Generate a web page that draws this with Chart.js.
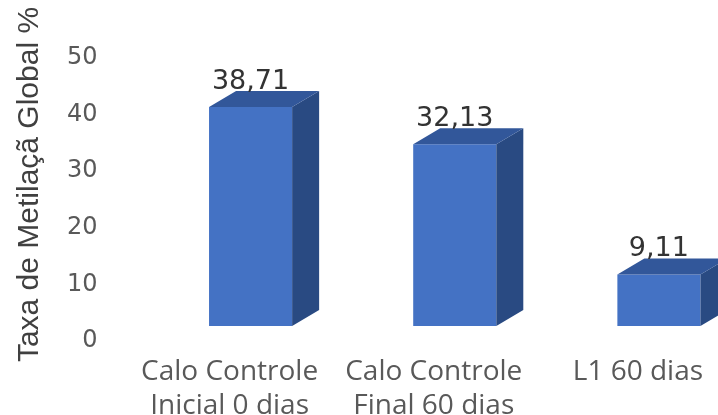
<!DOCTYPE html>
<html>
<head>
<meta charset="utf-8">
<script src="https://cdn.jsdelivr.net/npm/chart.js@4"></script>
<style>
    html, body { margin: 0; padding: 0; overflow: hidden; background: #fff; }
    #wrap { width: 770px; height: 422px; }
</style>
</head>
<body>
<div id="wrap"><canvas id="bar3d"></canvas></div>
<script>
// chart data
const categories = [
    ["Calo Controle", "Inicial 0 dias"],
    ["Calo Controle", "Final 60 dias"],
    "L1 60 dias"
];
const methylation = [38.71, 32.13, 9.11];
const yTicks = [0, 10, 20, 30, 40, 50];
const yTitle = "Taxa de Metilaçã Global %";

// depth of the fake 3D effect (px)
const DEPTH_X = 27;
const DEPTH_Y = 16;

// draws side + top faces and the value labels on top of the library's bars
const bar3d = {
    id: "bar3d",
    afterDatasetsDraw(chart) {
        const ctx = chart.ctx;
        const meta = chart.getDatasetMeta(0);
        ctx.save();
        meta.data.forEach((bar, i) => {
            const left = bar.x - bar.width / 2;
            const right = bar.x + bar.width / 2;
            const top = bar.y;
            const base = bar.base;

            // side face
            ctx.fillStyle = "#294A82";
            ctx.beginPath();
            ctx.moveTo(right, top);
            ctx.lineTo(right + DEPTH_X, top - DEPTH_Y);
            ctx.lineTo(right + DEPTH_X, base - DEPTH_Y);
            ctx.lineTo(right, base);
            ctx.closePath();
            ctx.fill();

            // top face
            ctx.fillStyle = "#32579A";
            ctx.beginPath();
            ctx.moveTo(left, top);
            ctx.lineTo(right, top);
            ctx.lineTo(right + DEPTH_X, top - DEPTH_Y);
            ctx.lineTo(left + DEPTH_X, top - DEPTH_Y);
            ctx.closePath();
            ctx.fill();

            // value label
            ctx.fillStyle = "#333333";
            ctx.font = "27px 'DejaVu Sans'";
            ctx.textAlign = "center";
            ctx.textBaseline = "alphabetic";
            const txt = methylation[i].toFixed(2).replace(".", ",");
            ctx.fillText(txt, bar.x, top - DEPTH_Y - 2);
        });
        ctx.restore();
    }
};

document.addEventListener("DOMContentLoaded", function () {
    new Chart(document.getElementById("bar3d"), {
        type: "bar",
        data: {
            labels: categories,
            datasets: [{
                label: yTitle,
                data: methylation,
                backgroundColor: "#4472C4",
                borderWidth: 0,
                categoryPercentage: 1,
                barPercentage: 0.407
            }]
        },
        options: {
            responsive: true,
            maintainAspectRatio: false,
            animation: false,
            layout: { padding: { top: 43, right: 9, bottom: 0, left: 0 } },
            plugins: {
                legend: { display: false },
                tooltip: { enabled: false }
            },
            scales: {
                x: {
                    grid: { display: false, drawTicks: false },
                    border: { display: false },
                    afterFit(scale) { scale.height = 96; },
                    ticks: {
                        color: "#595959",
                        font: { family: "'Open Sans'", size: 28, lineHeight: 1.18 },
                        padding: 30,
                        labelOffset: -21,
                        maxRotation: 0,
                        autoSkip: false
                    }
                },
                y: {
                    min: 0,
                    max: 50,
                    grid: { display: false, drawTicks: false },
                    border: { display: false },
                    afterFit(scale) {
                        // fixed axis width, and don't let the big tick padding push the plot down
                        scale.width = 148.5;
                        scale.paddingTop = 0;
                        scale.paddingBottom = 0;
                    },
                    afterBuildTicks(scale) { scale.ticks = yTicks.map(v => ({ value: v })); },
                    ticks: {
                        color: "#595959",
                        font: { family: "'DejaVu Sans'", size: 24 },
                        padding: 51,
                        labelOffset: 15
                    },
                    title: {
                        display: true,
                        text: yTitle,
                        color: "#404040",
                        font: { family: "'Liberation Sans', Arial", size: 30 },
                        padding: { top: 12, bottom: 0 }
                    }
                }
            }
        },
        plugins: [bar3d]
    });
});
</script>
</body>
</html>
